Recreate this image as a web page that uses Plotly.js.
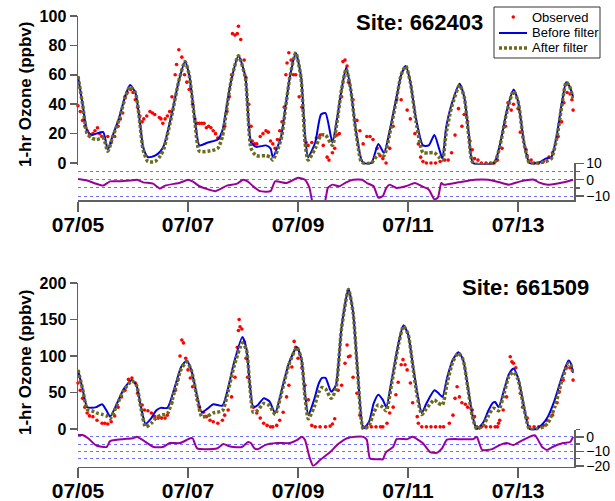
<!DOCTYPE html>
<html><head><meta charset="utf-8">
<script src="https://cdn.plot.ly/plotly-3.0.1.min.js"></script>
<style>html,body{margin:0;padding:0;background:#fff}#chart{width:615px;height:501px}</style>
</head><body><div id="chart"></div>
<script>
// hours since 07/05 00:00
const dayTicks = [0, 48, 96, 144, 192];
const dayLabels = ['07/05', '07/07', '07/09', '07/11', '07/13'];
const seriesNames = ['Observed', 'Before filter', 'After filter'];
const siteNames = ['Site: 662403', 'Site: 661509'];
const yTitle = '1-hr Ozone (ppbv)';

// ---- Site 662403 ----
const topObserved = [[0,39],[1,35],[2,29],[3,25],[4,22],[5,19],[6.5,20],[7.4,22],[8.5,24],[9.5,20],[10.4,18],[11.5,17],[13,18],[14.5,14],[16,18],[17.5,25],[18.5,30],[19.5,34],[20.5,45],[21.5,48],[23,50],[24,48],[25,43],[26,38],[27,32],[28,28],[28.7,30],[30,32],[31.4,35],[32.5,34],[33.5,33],[35.5,31],[36.2,30],[37,27],[38,30],[39,32],[40,35],[41,45],[42.4,60],[43,67],[44,77],[45.3,72],[46.5,60],[47.5,55],[48.5,50],[50,40],[51,30],[52,27],[53,27],[54,27],[55,27],[56,24],[57,25],[58,24],[59,22],[60,20],[61,17],[62,17],[63,20],[64,25],[65,35],[66,45],[67,60],[67.4,88],[68.5,87],[69.5,88],[70,93],[71,84],[72.5,70],[73.3,58],[74.5,40],[75.5,25],[76,15],[77,13],[78,13],[79.5,18],[80.7,20],[82,22],[83,21],[84,15],[85,13],[86,10],[87,16],[88,22],[89,28],[90,38],[90.7,60],[91.2,68],[92,75],[93,70],[94,60],[95,60],[96.5,45],[97.7,38],[98.6,29],[99.5,14],[100.4,12],[102,14],[104,17],[105.6,19],[107,12],[108.7,4],[109.5,2],[111,7],[112,10],[113,19],[114,20],[115,45],[115.6,69],[116.5,70],[117.4,66],[118,55],[120,43],[121.7,29],[123,22],[124.4,13],[126,18],[127.4,18],[128.7,16],[130.5,10],[131.8,5],[133,3],[134.4,0],[136,10],[137.5,25],[139,43],[141,43],[143.6,36],[145,30],[147,20],[148.5,13],[149.5,4],[150.5,1],[152,0],[154,0],[156,0],[158,1],[160,2],[161.5,2],[163,7],[164.5,19],[166,37],[167.5,25],[168.5,33],[170,28],[171,15],[172,9],[173,3],[174.5,2],[176,0],[178,0],[180,0],[181.5,0],[183,2],[185,10],[186.5,25],[187.6,41],[189,36],[190,40],[192,37],[193,21],[195.5,9],[196,5],[197.7,2],[199,0],[201,0],[203,1],[205.5,4],[207,7],[209.5,18],[211,28],[212,41],[213.4,48],[214.7,47],[215.5,43],[216,36]];
const topBefore = [[0,59],[2,40],[4,22],[6,19],[8,20],[11,21],[13,9],[15,18],[18,31],[20.5,45],[22.7,53],[25,48],[27,28],[28.4,11],[30.5,4],[33.6,5],[36,8],[37.5,12],[41,34],[44,56],[46.7,69],[48.5,60],[51,30],[53,12],[56.7,14],[61,16],[63,22],[65,40],[66.8,56],[70,73],[73,59],[75.5,14],[77.8,11],[82,12],[84,10],[85,4],[88.6,18],[90.5,38],[92.5,59],[95,75],[97.3,59],[99,20],[100.4,4],[103.5,14],[106,33],[108,34],[111,14],[113,30],[115,50],[117,65],[119,50],[121,25],[123.5,3],[124.5,0],[128,0],[131,13],[133.5,7],[136,22],[139,45],[141,60],[143,66],[145,55],[147.5,30],[150.5,12],[153,12],[155.5,19],[157.5,10],[159,3],[160.6,24],[163,40],[166.5,54],[168.5,45],[170.5,20],[172.4,0],[181.5,0],[184,12],[187,35],[190,50],[192,42],[194.5,15],[197,0],[200.7,0],[204,3],[206.5,4],[209,20],[211,40],[213,55],[214.5,52],[216,45]];
const topAfter = [[0,59],[2,40],[4,20],[6,17],[8,16],[11,17],[13,8],[15,17],[18,30],[20.5,44],[22.7,52],[25,48],[27,27],[28.4,9],[30.5,1],[33.6,1],[36,5],[37.5,10],[41,33],[44,56],[46.7,69],[48.5,60],[51,28],[53,8],[56.7,8],[61,10],[63,18],[65,38],[66.8,56],[70,73],[73,58],[75.5,10],[77.8,5],[82,5],[84,4],[85,2],[88.6,16],[90.5,37],[92.5,59],[95,75],[97.3,58],[99,15],[100.4,2],[103.5,10],[106,19],[108,19],[111,12],[113,28],[115,50],[117,64],[119,50],[121,24],[123.5,1],[124.5,0],[128,0],[131,6],[133.5,5],[136,20],[139,44],[141,60],[143,66],[145,55],[147.5,28],[150.5,7],[153,7],[155.5,7],[157.5,4],[159,2],[160.6,20],[163,38],[166.5,53],[168.5,45],[170.5,18],[172.4,0],[181.5,0],[184,11],[187,34],[190,49],[192,42],[194.5,14],[197,0],[200.7,0],[204,1],[206.5,3],[209,18],[211,38],[213,55],[214.5,52],[216,44]];
const topDiff = [[0,0.5],[4,-0.5],[8,-2.5],[11,-3.6],[14,-1],[18,-1],[22.7,-0.5],[25.7,0],[28.4,-1.6],[32.7,-2.4],[35.8,-5.4],[38,-3.6],[44.5,-1.8],[48,0],[50,-1],[53,-4],[60,-7],[65,-3.6],[69.4,-2.4],[72,0],[74,-1],[76.4,-4],[79.4,-7],[84,-7],[86,-1],[91,-2],[96,1.2],[99,0],[101,-5],[102.5,-14],[107.5,-14],[109,-5],[111,-3],[114,-4],[117,-1.6],[120,0],[124,0],[126,-2],[129,-4],[131,-11],[133,-10],[134.5,-5],[136,-3],[139,-5],[143,-4],[147,-2],[150,-4],[153,-6],[155.5,-12],[157,-11],[158.5,-2],[159.5,-3],[166,-1.6],[173,0],[179,0],[185,-2],[188,-3],[193,-1],[199,0],[201,-1.6],[205,-3],[212,-1.6],[216,0]];

// ---- Site 661509 ----
const botObserved = [[0,63],[1,53],[2,42],[3,30],[4,22],[5,18],[6.5,17],[8.3,12],[10.5,8],[11.7,8],[13,7],[14.5,10],[16,18],[17.5,30],[19,44],[20.5,53],[22,68],[23.5,70],[25,63],[26,49],[28,33],[29,26],[30.5,25],[32,22],[33.5,17],[35,15],[36.5,15],[38,15],[39,19],[41,36],[42.5,53],[43.6,67],[44.5,100],[45.3,122],[46,118],[47,97],[48,81],[49,70],[50,58],[52,40],[53,30],[54.7,23],[56,17],[57.6,12],[59,10],[61,8],[63,12],[64,19],[65.5,26],[67,44],[68.5,71],[69.5,112],[70,135],[70.3,150],[70.7,140],[71.5,137],[72.6,119],[73.3,97],[74,71],[75,58],[76.5,30],[78,22],[79.5,15],[81,8],[82.5,5],[84,3],[85,3],[86.7,5],[88,12],[89.5,23],[91,44],[92,60],[93.3,85],[94.3,120],[95,112],[96,97],[97.7,84],[99,60],[100.5,40],[102,5],[103.5,3],[105.6,3],[108,3],[110,4],[111,7],[112,14],[113.5,53],[115,60],[116.5,90],[117.4,115],[118,99],[118.7,100],[120,71],[121.7,49],[123,19],[124.4,3],[126,3],[128,3],[130,3],[132,3],[133,3],[134.8,8],[136,22],[137.5,30],[138.7,47],[139.7,64],[141,88],[141.8,95],[142.7,88],[143.6,81],[145,63],[146,36],[148,17],[148.5,8],[150,3],[152,3],[154,3],[156,3],[158,3],[159.5,3],[162,8],[163.6,19],[164.5,42],[165.4,58],[166.4,44],[167.5,36],[169,34],[170,30],[172,26],[173,17],[174,3],[176,3],[178,3],[180,3],[182,3],[183,3],[183.5,8],[184,12],[185.5,26],[187,44],[188.6,99],[189.3,92],[190,90],[191,84],[193,49],[194,30],[196,15],[197,3],[199,3],[201,3],[203,5],[204.6,12],[207,19],[209,36],[210,51],[211.7,67],[213,85],[214.6,84],[216,67]];
const botBefore = [[0,81],[2,55],[4,30],[6,29],[8,30],[10.5,34],[12.5,25],[14,17],[17,35],[20,55],[23.5,67],[25.5,60],[27.5,30],[29.5,7],[32,15],[34,25],[36,29],[39,29],[42,55],[45,85],[47.5,94],[49.5,80],[52,45],[54,23],[56.5,28],[59,34],[63,32],[65,50],[68,90],[71.7,126],[73.5,110],[75,60],[76.5,30],[78.5,33],[81,42],[83.5,38],[86,22],[89,55],[92,90],[95.5,112],[97.5,95],[99,50],[100.5,19],[103,40],[105,62],[106.5,70],[108,70],[110.5,51],[112.5,60],[115,140],[118,192],[120,160],[122,80],[124.5,1],[127,10],[129,35],[131,47],[133,40],[134.5,30],[137,70],[140,120],[142,142],[144,130],[146,90],[148,50],[150,22],[152,35],[155.5,53],[157,50],[159,44],[161,70],[163.5,95],[166,105],[168,95],[170,60],[172,20],[174,0],[177,10],[179,25],[181,36],[182,37],[183.5,30],[186,55],[188,75],[190,83],[192,70],[194,40],[197,0],[200,0],[203,8],[205,17],[208,40],[211,70],[214,94],[215,90],[216,77]];
const botAfter = [[0,81],[2,55],[4,27],[6,25],[8,22],[10.5,20],[12.5,18],[14,14],[17,33],[20,53],[23.5,66],[25.5,60],[27.5,28],[29.5,3],[32,8],[34,15],[36,19],[39,21],[42,50],[45,82],[47.5,92],[49.5,80],[52,42],[54,17],[56.5,18],[59,22],[63,25],[65,45],[68,85],[71.7,118],[73.5,108],[75,58],[76.5,23],[78.5,26],[81,35],[83.5,32],[86,20],[89,52],[92,88],[95.5,112],[97.5,95],[99,45],[100.5,14],[103,30],[105,50],[106.5,57],[108,55],[110.5,42],[112.5,55],[115,138],[118,191],[120,160],[122,78],[124.5,0],[127,5],[129,22],[131,33],[133,30],[134.5,25],[137,65],[140,118],[142,141],[144,130],[146,88],[148,45],[150,20],[152,28],[155.5,40],[157,36],[159,33],[161,62],[163.5,92],[166,104],[168,95],[170,58],[172,18],[174,0],[177,6],[179,18],[181,28],[182,28],[183.5,25],[186,50],[188,72],[190,78],[192,68],[194,38],[197,0],[200,0],[203,3],[205,8],[208,30],[211,65],[214,90],[215,88],[216,75]];
const botDiff = [[0,1.2],[2,1.2],[4.4,-1],[8,-6],[12.5,-7],[14,-3],[19.6,-1.6],[24,-1],[25.7,0],[28,-2],[33,-7],[37,-7],[40,-4.3],[44.5,-4.3],[49,-1],[50,-1],[52,-8],[60.6,-8],[63.4,-5],[66,-6.5],[67.8,-7],[71.5,-7],[74.2,-3.6],[75.5,-4.5],[77,-8],[78.5,-8.5],[81.6,-5.7],[86.8,-4.3],[92.5,-4.3],[95.5,-2.3],[97.7,0],[99,-2],[101,-14],[102.6,-20],[105.6,-16],[110,-10.5],[113.5,-5],[117.4,-1],[121,0],[124.5,0],[126,-2],[127.4,-15],[131.8,-15.5],[133,-15.5],[134.4,-10.5],[137.5,-7],[139,-1.6],[143.6,-1.6],[146,0],[150.5,-4.5],[153.6,-10.5],[156.6,-11],[158.8,-8],[161,-2],[166.7,-1.6],[172.4,-1.6],[174,0],[176.3,-9],[180.7,-8.5],[184,-5.7],[187,-4.3],[190,-5.7],[191.6,-4.3],[197,0],[199.4,1],[202.5,-7],[204.6,-9],[207,-7],[211.7,-4.3],[214.7,-3.6],[216,0]];

const W = 615, H = 501;
const px = v => v / W;
const py = v => 1 - v / H;
const X = a => a.map(p => p[0]);
const Y = a => a.map(p => p[1]);

const FONT = 'Liberation Sans, Arial, sans-serif';
const RED = '#ff0000', BLUE = '#0000e0', OLIVE = '#6b6b1e', PURPLE = '#990099', GRID = '#7070ff', AX = '#606060';
const OLIVE_DASH = '3px,2px';

function panel(obs, bef, aft, diff, xa, ya, yd) {
  return [
    {x: X(obs), y: Y(obs), xaxis: xa, yaxis: ya, type: 'scatter', mode: 'markers', name: seriesNames[0],
     marker: {color: RED, size: 3.6}, cliponaxis: false, showlegend: false},
    {x: X(bef), y: Y(bef), xaxis: xa, yaxis: ya, type: 'scatter', mode: 'lines', name: seriesNames[1],
     line: {color: BLUE, width: 2, shape: 'spline', smoothing: 0.6}, showlegend: false},
    {x: X(aft), y: Y(aft), xaxis: xa, yaxis: ya, type: 'scatter', mode: 'lines', name: seriesNames[2],
     line: {color: OLIVE, width: 3.5, dash: OLIVE_DASH, shape: 'spline', smoothing: 0.6}, showlegend: false},
    {x: X(diff), y: Y(diff), xaxis: xa, yaxis: yd, type: 'scatter', mode: 'lines', name: 'difference',
     line: {color: PURPLE, width: 2, shape: 'spline', smoothing: 0.5}, showlegend: false}
  ];
}

const data = [].concat(
  panel(topObserved, topBefore, topAfter, topDiff, 'x', 'y', 'y2'),
  panel(botObserved, botBefore, botAfter, botDiff, 'x2', 'y3', 'y4')
);

const xBase = {
  domain: [px(78), px(574)], range: [0, 216.4], showline: true, linecolor: AX, linewidth: 1.5,
  ticks: 'outside', ticklen: 10, tickwidth: 1.5, tickcolor: AX, tickvals: dayTicks, ticktext: dayLabels,
  ticklabelstandoff: -5,
  tickfont: {family: FONT, size: 21, color: '#000', weight: 'bold'}, showgrid: false, zeroline: false
};
const yMain = (dom, range, dtick) => ({
  domain: dom, range: range, showline: true, linecolor: AX, linewidth: 1.5, ticks: 'outside', ticklen: 7,
  tickwidth: 1.5, tickcolor: AX, tick0: 0, dtick: dtick, tickfont: {family: FONT, size: 16, color: '#000', weight: 'bold'},
  showgrid: false, zeroline: false
});
const yDiff = (dom, range) => ({
  domain: dom, range: range, side: 'right', showline: true, linecolor: AX, linewidth: 1.5, ticks: 'outside',
  ticklen: 8, tickwidth: 1.5, tickcolor: AX, tick0: 0, dtick: 10,
  tickfont: {family: FONT, size: 14, color: '#000'},
  showgrid: true, gridcolor: GRID, griddash: 'dot', gridwidth: 1, zeroline: false,
  minor: {dtick: 5, tick0: 0, ticks: 'outside', ticklen: 4, tickwidth: 1.5, tickcolor: AX, showgrid: true, gridcolor: GRID, griddash: 'dot', gridwidth: 1}
});

// legend box drawn in pixel layout coordinates
const LEG = {x0: 494, x1: 600, y0: 7, y1: 58, rows: [17, 33, 48], symX0: 499, symX1: 527, textX: 530};
const legShapes = [
  {type: 'rect', xref: 'paper', yref: 'paper', x0: px(LEG.x0), x1: px(LEG.x1), y0: py(LEG.y1), y1: py(LEG.y0),
   line: {color: '#333', width: 1}, fillcolor: '#fff', layer: 'above'},
  {type: 'circle', xref: 'paper', yref: 'paper', x0: px(511.5), x1: px(515.0), y0: py(LEG.rows[0] + 1.75), y1: py(LEG.rows[0] - 1.75),
   line: {width: 0}, fillcolor: RED, layer: 'above'},
  {type: 'line', xref: 'paper', yref: 'paper', x0: px(LEG.symX0), x1: px(LEG.symX1), y0: py(LEG.rows[1]), y1: py(LEG.rows[1]),
   line: {color: BLUE, width: 2}, layer: 'above'},
  {type: 'line', xref: 'paper', yref: 'paper', x0: px(LEG.symX0), x1: px(LEG.symX1), y0: py(LEG.rows[2]), y1: py(LEG.rows[2]),
   line: {color: OLIVE, width: 3.5, dash: OLIVE_DASH}, layer: 'above'}
];
const legText = seriesNames.map((n, i) => ({
  text: n, xref: 'paper', yref: 'paper', x: px(LEG.textX), y: py(LEG.rows[i]), xanchor: 'left', yanchor: 'middle',
  showarrow: false, font: {family: FONT, size: 13, color: '#000'}
}));

const layout = {
  width: W, height: H, margin: {l: 0, r: 0, t: 0, b: 0}, paper_bgcolor: '#fff', plot_bgcolor: 'rgba(0,0,0,0)',
  font: {family: FONT, color: '#000'},
  xaxis: Object.assign({}, xBase, {anchor: 'y2'}),
  xaxis2: Object.assign({}, xBase, {anchor: 'y4'}),
  yaxis: Object.assign(yMain([py(164.8), py(16)], [-1.2, 100], 20), {anchor: 'x'}),
  yaxis2: Object.assign(yDiff([py(200), py(163.3)], [-12.4, 10.05]), {anchor: 'x'}),
  yaxis3: Object.assign(yMain([py(430.5), py(283)], [-2, 200], 50), {anchor: 'x2'}),
  yaxis4: Object.assign(yDiff([py(466.7), py(429.5)], [-20.6, 5.05]), {anchor: 'x2'}),
  showlegend: false,
  shapes: legShapes,
  annotations: [
    {text: siteNames[0], xref: 'paper', yref: 'paper', x: px(419), y: py(22), xanchor: 'center', yanchor: 'middle', showarrow: false,
     font: {family: FONT, size: 22, weight: 'bold', color: '#000'}},
    {text: siteNames[1], xref: 'paper', yref: 'paper', x: px(525), y: py(287), xanchor: 'center', yanchor: 'middle', showarrow: false,
     font: {family: FONT, size: 22, weight: 'bold', color: '#000'}},
    {text: yTitle, xref: 'paper', yref: 'paper', x: px(25), y: py(95), xanchor: 'center', yanchor: 'middle', textangle: -90, showarrow: false,
     font: {family: FONT, size: 17, weight: 'bold', color: '#000'}},
    {text: yTitle, xref: 'paper', yref: 'paper', x: px(25), y: py(363), xanchor: 'center', yanchor: 'middle', textangle: -90, showarrow: false,
     font: {family: FONT, size: 17, weight: 'bold', color: '#000'}}
  ].concat(legText)
};

Plotly.newPlot('chart', data, layout, {staticPlot: true, displayModeBar: false});
</script>
</body></html>
